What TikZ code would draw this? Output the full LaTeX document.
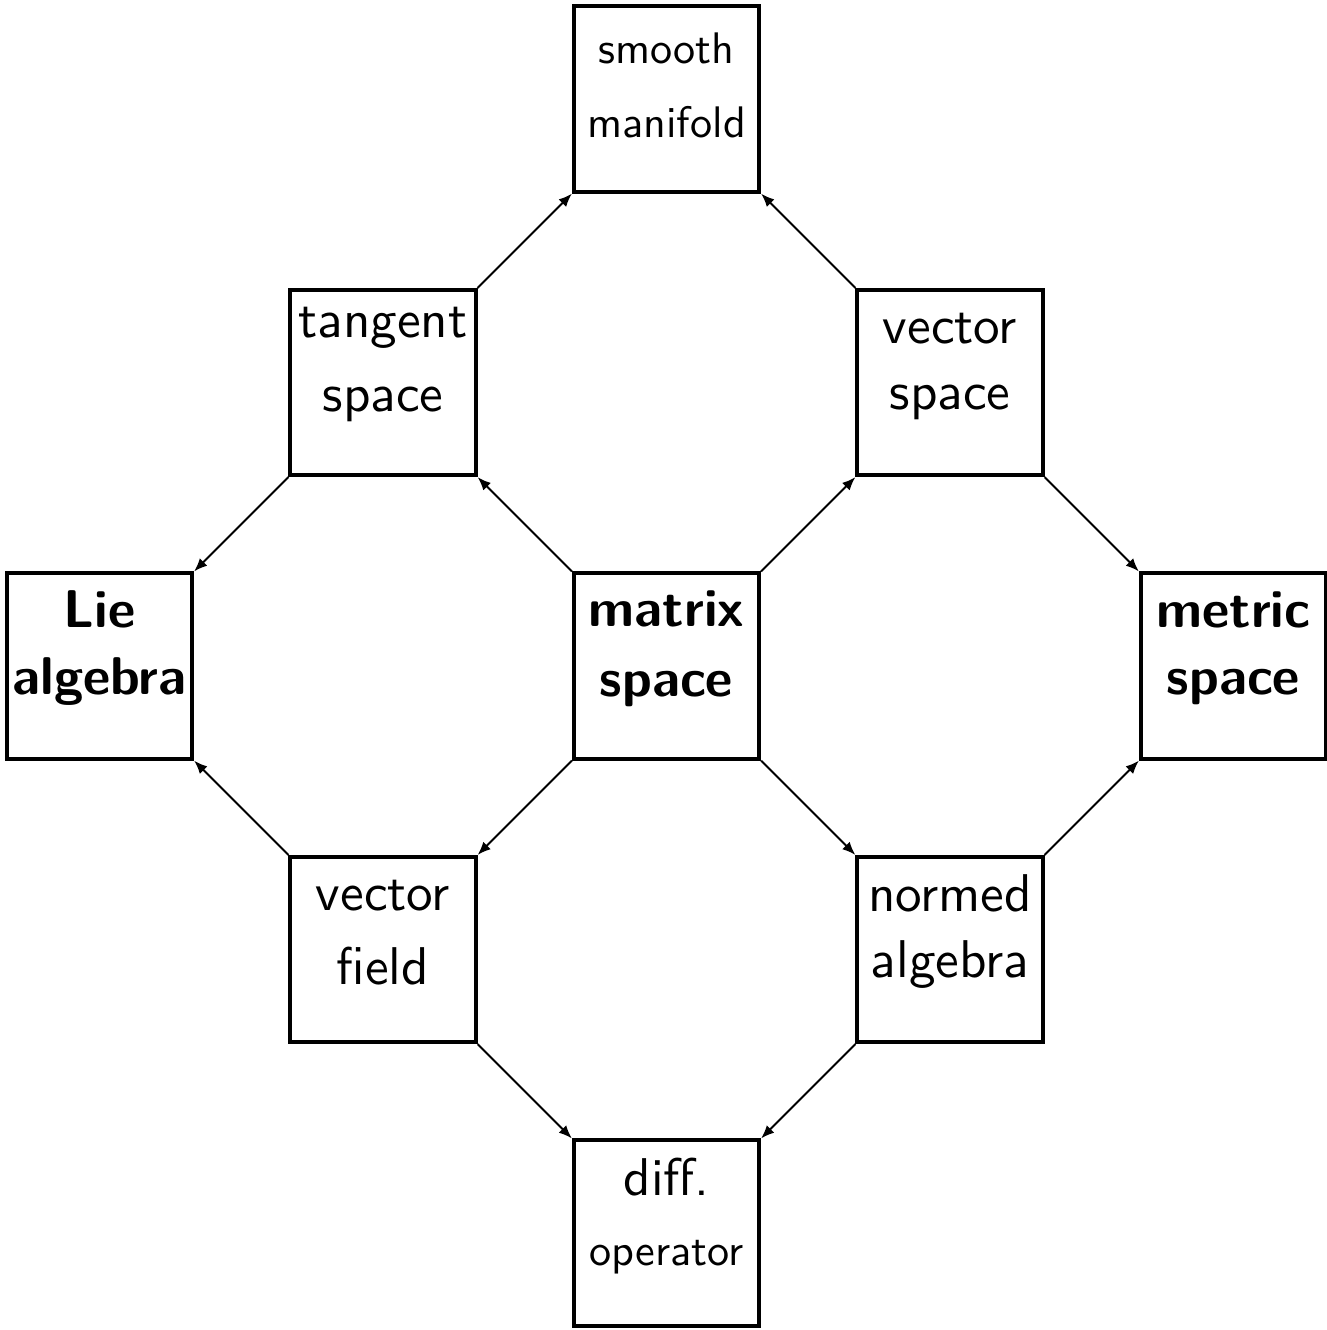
\documentclass[tikz,border=0pt]{standalone}
\usepackage{fontspec}
\usepackage{tikz}
\usetikzlibrary{arrows.meta,positioning}
\newfontfamily\cellfont{lmsans10-regular.otf}[BoldFont=lmsans10-bold.otf]
\tikzset{
  cell/.style 2 args={draw, line width=1.2pt, minimum size=1.96cm, inner sep=0pt,
               align=center, text height=#1, text depth=#2,
               font=\cellfont\fontsize{16}{20}\selectfont},
  arr/.style={-{Latex[length=4pt,width=3.2pt]}, line width=0.6pt},
}
\newcommand{\smalltxt}{\fontsize{13.3}{20}\selectfont}

\begin{document}
\begin{tikzpicture}
\useasboundingbox (-7.053,-7.026) rectangle (6.989,7.048);

% centre and the ring round it
\node[cell={1.30cm}{0.66cm}] (mat) at (0,0) {\bfseries matrix\\[0.9pt]\bfseries space};
\node[cell={1.29cm}{0.67cm}] (tsp) at (-3,3) {tangent\\[2.3pt]space};
\node[cell={1.27cm}{0.69cm}] (vsp) at (3,3) {vector\\space};
\node[cell={1.355cm}{0.605cm}] (vfd) at (-3,-3) {vector\\[2.3pt]field};
\node[cell={1.28cm}{0.68cm}] (nal) at (3,-3) {normed\\algebra};

% outer boxes
\node[cell={1.386cm}{0.574cm}, font=\cellfont\fontsize{13.3}{22.3}\selectfont]
  (smf) at (0,6) {smooth\\manifold};
\node[cell={1.28cm}{0.68cm}] (lie) at (-6,0) {\bfseries Lie\\\bfseries algebra};
\node[cell={1.28cm}{0.68cm}] (met) at (6,0) {\bfseries metric\\\bfseries space};
\node[cell={1.32cm}{0.64cm}] (dop) at (0,-6) {diff.\\[1.1pt]{\smalltxt operator}};

% arrows, corner to corner
\draw[arr] (tsp.north east) -- (smf.south west);
\draw[arr] (vsp.north west) -- (smf.south east);
\draw[arr] (mat.north west) -- (tsp.south east);
\draw[arr] (mat.north east) -- (vsp.south west);
\draw[arr] (tsp.south west) -- (lie.north east);
\draw[arr] (vsp.south east) -- (met.north west);
\draw[arr] (vfd.north west) -- (lie.south east);
\draw[arr] (mat.south west) -- (vfd.north east);
\draw[arr] (mat.south east) -- (nal.north west);
\draw[arr] (nal.north east) -- (met.south west);
\draw[arr] (vfd.south east) -- (dop.north west);
\draw[arr] (nal.south west) -- (dop.north east);

\end{tikzpicture}
\end{document}
